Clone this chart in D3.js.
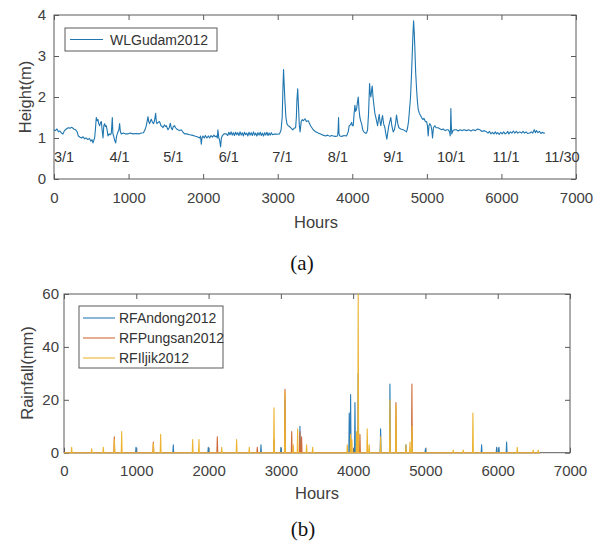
<!DOCTYPE html>
<html>
<head>
<meta charset="utf-8">
<script src="https://cdn.jsdelivr.net/npm/d3@7"></script>
<style>
  body { margin: 0; background: #fff; }
  svg { display: block; }
  text { font-family: "Liberation Sans", Arial, sans-serif; }
</style>
</head>
<body>
<svg id="chart" width="601" height="542"></svg>
<script>
// water level at Gudam, hourly (hours since 3/1)
var wlGudam = [[0,1.2],[20,1.18],[40,1.22],[60,1.15],[80,1.17],[100,1.12],[120,1.1],[140,1.18],[165,1.22],[190,1.25],
  [215,1.24],[240,1.26],[265,1.22],[290,1.2],[310,1.15],[326,1.05],[350,1.02],[370,1.0],[390,1.03],[410,0.98],
  [430,1.0],[455,0.96],[475,0.99],[495,0.92],[510,0.96],[523,0.88],[535,0.95],[545,1.0],[555,1.2],[567,1.5],
  [580,1.42],[590,1.45],[600,1.35],[612,1.3],[625,1.38],[635,1.4],[645,1.2],[657,1.0],[668,1.3],[680,1.35],
  [690,1.28],[700,1.3],[712,1.2],[724,1.05],[740,1.1],[755,1.08],[769,1.12],[782,1.5],[790,1.1],[800,1.05],
  [812,0.95],[827,0.88],[840,1.05],[858,1.15],[870,1.2],[880,1.35],[890,1.15],[903,1.1],[930,1.12],[960,1.1],
  [990,1.1],[1020,1.12],[1060,1.1],[1100,1.11],[1140,1.1],[1170,1.12],[1200,1.13],[1220,1.2],[1238,1.3],[1250,1.42],
  [1260,1.52],[1270,1.4],[1282,1.35],[1295,1.42],[1305,1.46],[1320,1.38],[1336,1.35],[1350,1.45],[1363,1.6],[1372,1.4],
  [1380,1.35],[1395,1.38],[1416,1.4],[1435,1.3],[1450,1.28],[1461,1.25],[1480,1.32],[1495,1.28],[1506,1.3],[1528,1.2],
  [1545,1.25],[1560,1.36],[1572,1.25],[1586,1.2],[1600,1.28],[1617,1.3],[1630,1.25],[1645,1.22],[1662,1.2],[1685,1.18],
  [1707,1.2],[1730,1.14],[1752,1.1],[1780,1.1],[1818,1.08],[1850,1.07],[1886,1.05],[1920,1.03],[1953,1.0],[1965,1.05],
  [1975,0.85],[1985,1.0],[1997,1.05],[2015,1.0],[2030,1.06],[2050,1.0],[2070,1.05],[2087,1.0],[2105,1.06],[2125,1.02],
  [2145,1.07],[2160,1.03],[2176,1.05],[2190,1.0],[2198,1.2],[2210,1.0],[2221,0.95],[2234,0.78],[2245,1.0],[2256,1.05],
  [2280,1.1],[2310,1.1],[2330,1.06],[2345,1.14],[2360,1.08],[2375,1.15],[2390,1.07],[2405,1.13],[2420,1.06],[2435,1.14],
  [2450,1.08],[2465,1.13],[2480,1.06],[2495,1.15],[2510,1.07],[2525,1.13],[2540,1.05],[2555,1.14],[2570,1.08],[2585,1.12],
  [2600,1.05],[2615,1.14],[2630,1.07],[2645,1.13],[2660,1.06],[2675,1.15],[2690,1.07],[2705,1.12],[2720,1.05],[2735,1.13],
  [2750,1.07],[2765,1.14],[2780,1.06],[2795,1.12],[2810,1.05],[2825,1.13],[2840,1.07],[2855,1.14],[2870,1.06],[2885,1.12],
  [2900,1.07],[2915,1.13],[2930,1.08],[2960,1.1],[2990,1.09],[3025,1.1],[3045,1.2],[3060,1.5],[3070,2.2],[3078,2.67],
  [3087,2.3],[3097,1.9],[3110,1.5],[3123,1.35],[3140,1.3],[3159,1.28],[3175,1.25],[3190,1.22],[3204,1.2],[3220,1.24],
  [3240,1.25],[3250,1.5],[3257,1.9],[3268,2.2],[3278,1.8],[3290,1.3],[3300,1.15],[3315,1.4],[3330,1.45],[3345,1.42],
  [3365,1.47],[3385,1.4],[3410,1.42],[3440,1.3],[3476,1.2],[3510,1.15],[3543,1.12],[3575,1.1],[3610,1.07],[3640,1.05],
  [3670,1.07],[3700,1.04],[3720,1.06],[3744,1.05],[3770,1.04],[3803,1.05],[3810,1.2],[3816,1.5],[3822,1.1],[3834,1.05],
  [3860,1.04],[3890,1.06],[3923,1.05],[3945,1.15],[3959,1.3],[3975,1.32],[3990,1.38],[4000,1.3],[4012,1.3],[4025,1.6],
  [4035,1.8],[4045,1.65],[4057,1.7],[4068,1.85],[4080,2.0],[4090,1.7],[4102,1.5],[4115,1.4],[4125,1.35],[4140,1.2],
  [4155,1.15],[4175,1.12],[4191,1.12],[4205,1.2],[4218,1.6],[4226,2.0],[4232,2.33],[4240,2.1],[4249,2.0],[4258,2.15],
  [4267,2.27],[4278,2.0],[4290,1.8],[4303,1.6],[4316,1.5],[4328,1.4],[4339,1.3],[4350,1.45],[4361,1.58],[4372,1.4],
  [4383,1.3],[4395,1.45],[4406,1.55],[4420,1.35],[4437,1.25],[4450,1.1],[4464,0.97],[4477,1.15],[4490,1.3],[4503,1.4],
  [4517,1.5],[4530,1.3],[4549,1.15],[4565,1.2],[4580,1.35],[4593,1.56],[4610,1.35],[4625,1.25],[4650,1.22],[4683,1.2],
  [4705,1.18],[4727,1.15],[4742,1.25],[4754,1.4],[4768,1.7],[4781,2.0],[4793,2.5],[4803,3.0],[4813,3.5],[4822,3.86],
  [4830,3.6],[4839,3.2],[4850,2.6],[4862,2.2],[4873,1.9],[4884,1.7],[4900,1.6],[4915,1.55],[4929,1.5],[4945,1.45],
  [4960,1.48],[4980,1.4],[4996,1.4],[5008,1.3],[5018,1.05],[5028,1.3],[5040,1.35],[5055,1.3],[5066,1.2],[5076,1.0],
  [5088,1.25],[5107,1.3],[5125,1.25],[5152,1.25],[5180,1.22],[5200,1.2],[5219,1.22],[5245,1.18],[5270,1.2],[5286,1.2],
  [5305,1.15],[5313,1.05],[5318,1.3],[5322,1.72],[5328,1.3],[5335,1.1],[5350,1.18],[5375,1.2],[5398,1.2],[5420,1.17],
  [5445,1.2],[5470,1.18],[5500,1.2],[5532,1.18],[5560,1.2],[5590,1.17],[5620,1.2],[5650,1.18],[5680,1.22],[5710,1.2],
  [5740,1.16],[5770,1.18],[5800,1.15],[5820,1.12],[5840,1.16],[5860,1.1],[5880,1.14],[5900,1.1],[5920,1.15],[5934,1.1],
  [5950,1.13],[5970,1.09],[5990,1.14],[6010,1.1],[6030,1.15],[6050,1.1],[6068,1.12],[6085,1.16],[6100,1.1],[6120,1.15],
  [6140,1.12],[6160,1.17],[6180,1.12],[6200,1.16],[6220,1.12],[6247,1.15],[6270,1.12],[6290,1.16],[6310,1.12],[6330,1.15],
  [6350,1.11],[6381,1.12],[6400,1.15],[6420,1.12],[6440,1.2],[6455,1.13],[6470,1.18],[6490,1.13],[6510,1.16],[6530,1.11],
  [6550,1.14],[6565,1.12],[6582,1.12]];

// month markers (text label, hour where it starts)
var monthLabels = ["3/1","4/1","5/1","6/1","7/1","8/1","9/1","10/1","11/1","11/30"];
var monthHours = [0, 744, 1464, 2208, 2928, 3672, 4416, 5136, 5880, 6576];

// rainfall events [hour, mm]; zero between events
var rfAndong = [[996,2],[1512,3],[1996,2],[2725,3],[2905,4],[3001,2],[3057,20],[3264,10],[3946,15],[3965,22],
  [4025,19],[4070,30],[4380,9],[4509,26],[4730,3],[5000,1.5],[5777,3],[5985,2],[6017,2],[6123,4]];
var rfPungsan = [[696,6],[1236,4],[2121,6],[2674,2],[2905,5],[3057,24],[3150,8],[3264,8],[3287,6],[4094,7],
  [4592,19],[4813,26]];
var rfIljik = [[106,2],[383,1.5],[544,2],[696,5],[798,8],[1236,3.5],[1337,7],[1780,5],[1867,5],[2181,2],
  [2388,5],[2563,2],[2905,17],[3057,23],[3172,3],[3232,9],[3356,3],[3440,2],[3919,3],[3965,7],
  [3983,5],[4048,8],[4070,60],[4195,9],[4222,3],[4380,6],[4509,20],[4592,18],[4730,3],[4786,4],
  [4813,10],[5385,1],[5523,1],[5657,15],[6270,2],[6491,1],[6560,1]];
var rainEnd = 6584;

var hourTicks = [0,1000,2000,3000,4000,5000,6000,7000];
var levelTicks = [0,1,2,3,4];
var rainTicks = [0,20,40,60];

var rainNames = ["RFAndong2012","RFPungsan2012","RFIljik2012"];
var rainColors = ["#2a7db8","#cf6b3a","#ecb432"];

var svg = d3.select("#chart");
var axisCol = "#5a5a5a", textCol = "#404040";

function frame(box, yDomain, yTicks) {
  var x = d3.scaleLinear().domain([0,7000]).range([box.left, box.right]);
  var y = d3.scaleLinear().domain(yDomain).range([box.bottom, box.top]);
  var g = svg.append("g");
  g.append("g").attr("transform","translate(0,"+box.bottom+")")
    .call(d3.axisBottom(x).tickValues(hourTicks).tickSize(-5).tickPadding(13).tickFormat(d3.format("d")));
  g.append("g").attr("transform","translate(0,"+box.top+")")
    .call(d3.axisTop(x).tickValues(hourTicks).tickSize(-5).tickFormat(""));
  g.append("g").attr("transform","translate("+box.left+",0)")
    .call(d3.axisLeft(y).tickValues(yTicks).tickSize(-5).tickPadding(box.ypad).tickFormat(d3.format("d")));
  g.append("g").attr("transform","translate("+box.right+",0)")
    .call(d3.axisRight(y).tickValues(yTicks).tickSize(-5).tickFormat(""));
  g.selectAll(".domain").remove();
  g.selectAll(".tick line").attr("stroke", axisCol);
  g.selectAll(".tick text").attr("fill", textCol).style("font-size","15px")
    .style("font-family","'Liberation Sans', Arial, sans-serif");
  g.append("rect").attr("x",box.left).attr("y",box.top)
    .attr("width",box.right-box.left).attr("height",box.bottom-box.top)
    .attr("fill","none").attr("stroke",axisCol).attr("stroke-width",1);
  return {x:x, y:y, g:g};
}

// ---- (a) water level ----
var boxA = {left:54, right:576, top:15, bottom:179, ypad:8};
var a = frame(boxA, [0,4], levelTicks);

var lineA = d3.line().x(function(d){ return a.x(d[0]); }).y(function(d){ return a.y(d[1]); });
svg.append("path").datum(wlGudam)
  .attr("fill","none").attr("stroke","#1f76b0").attr("stroke-width",1.1)
  .attr("stroke-linejoin","round").attr("d", lineA);

svg.selectAll(".month").data(monthLabels).enter().append("text")
  .attr("x", function(d,i){ return a.x(monthHours[i]); })
  .attr("y", 162)
  .attr("fill", "#333").style("font-size","14.5px")
  .text(function(d){ return d; });

var legA = svg.append("g");
legA.append("rect").attr("x",65).attr("y",28).attr("width",152).attr("height",23)
  .attr("fill","#fff").attr("stroke",axisCol);
legA.append("line").attr("x1",70).attr("x2",103).attr("y1",39.5).attr("y2",39.5)
  .attr("stroke","#1f76b0").attr("stroke-width",1.1);
legA.append("text").attr("x",110).attr("y",44.5).attr("fill","#333").style("font-size","14px").text("WLGudam2012");

svg.append("text").attr("x",316).attr("y",228).attr("text-anchor","middle")
  .attr("fill",textCol).style("font-size","16.5px").text("Hours");
svg.append("text").attr("transform","translate(31,97) rotate(-90)").attr("text-anchor","middle")
  .attr("fill",textCol).style("font-size","16.5px").text("Height(m)");
svg.append("text").attr("x",302).attr("y",270).attr("text-anchor","middle")
  .attr("fill","#111").style("font-family","'Liberation Serif', 'Times New Roman', serif")
  .style("font-size","21px").text("(a)");

// ---- (b) rainfall ----
var boxB = {left:64, right:570, top:294, bottom:452.7, ypad:5};
var b = frame(boxB, [0,60], rainTicks);

function spikes(events) {
  var pts = [[0,0]];
  events.forEach(function(e){
    pts.push([e[0]-6,0]); pts.push([e[0],e[1]]); pts.push([e[0]+6,0]);
  });
  pts.push([rainEnd,0]);
  return pts;
}
var lineB = d3.line().x(function(d){ return b.x(d[0]); }).y(function(d){ return b.y(d[1]); });
[rfAndong, rfPungsan, rfIljik].forEach(function(ev, i){
  svg.append("path").datum(spikes(ev))
    .attr("fill","none").attr("stroke",rainColors[i]).attr("stroke-width",1.1)
    .attr("stroke-linejoin","round").attr("d", lineB);
});

var legB = svg.append("g");
legB.append("rect").attr("x",79).attr("y",306).attr("width",144).attr("height",62)
  .attr("fill","#fff").attr("stroke",axisCol);
rainNames.forEach(function(n,i){
  var yy = 318 + i*20;
  legB.append("line").attr("x1",83).attr("x2",115).attr("y1",yy).attr("y2",yy)
    .attr("stroke",rainColors[i]).attr("stroke-width",1.1);
  legB.append("text").attr("x",119).attr("y",yy+5).attr("fill","#333").style("font-size","14px").text(n);
});

svg.append("text").attr("x",317).attr("y",499).attr("text-anchor","middle")
  .attr("fill",textCol).style("font-size","16.5px").text("Hours");
svg.append("text").attr("transform","translate(33,373) rotate(-90)").attr("text-anchor","middle")
  .attr("fill",textCol).style("font-size","16.5px").text("Rainfall(mm)");
svg.append("text").attr("x",303).attr("y",536).attr("text-anchor","middle")
  .attr("fill","#111").style("font-family","'Liberation Serif', 'Times New Roman', serif")
  .style("font-size","21px").text("(b)");
</script>
</body>
</html>
